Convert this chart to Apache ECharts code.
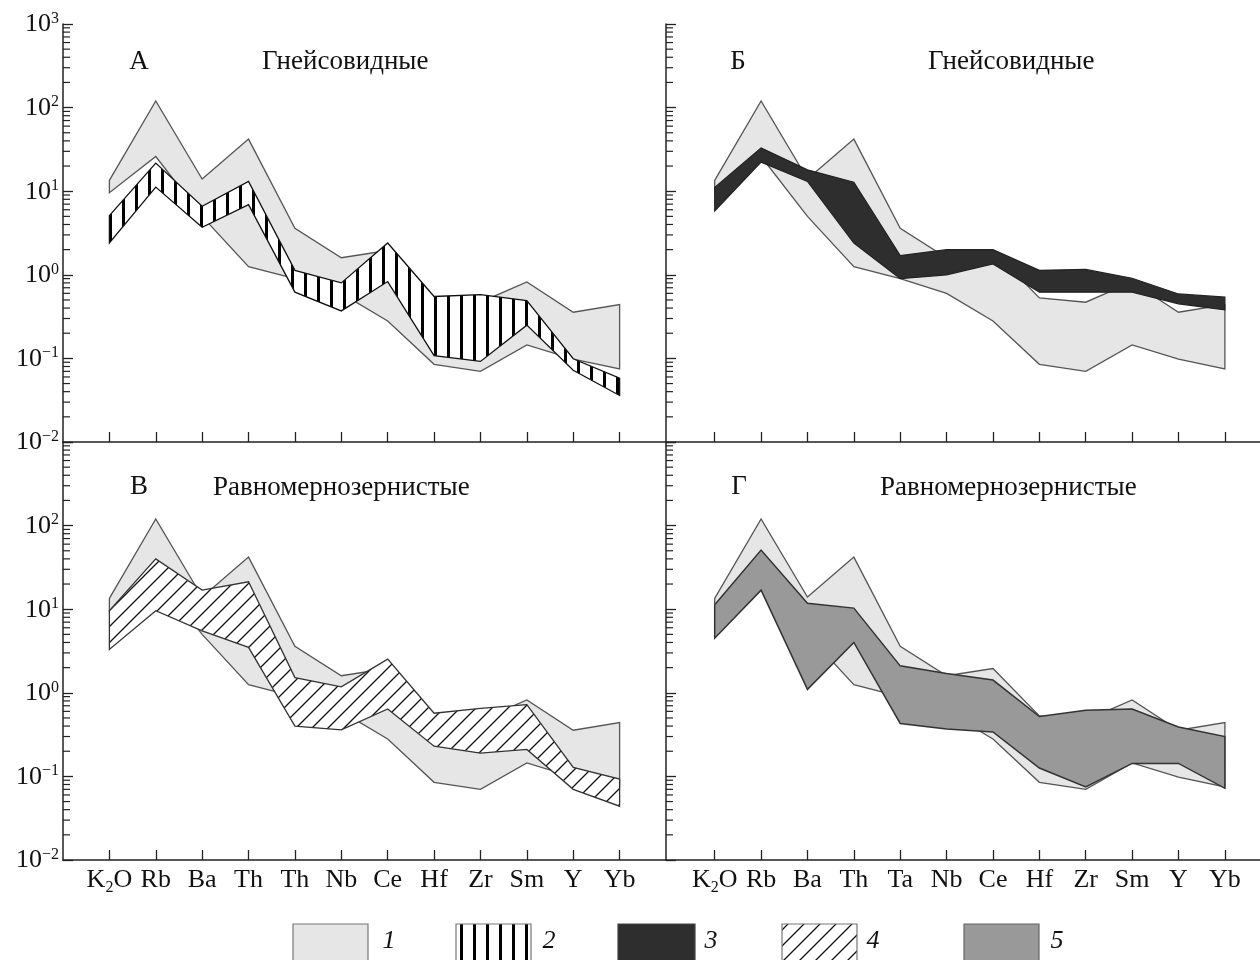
<!DOCTYPE html>
<html><head><meta charset="utf-8">
<script src="https://cdn.jsdelivr.net/npm/echarts@6/dist/echarts.min.js"></script>
<style>html,body{margin:0;padding:0;background:#fff}#c{width:1260px;height:960px}</style>
</head><body><div id="c"></div>
<script>
// ---------- DATA ----------
const elementsLeft  = ['K2O','Rb','Ba','Th','Th','Nb','Ce','Hf','Zr','Sm','Y','Yb'];
const elementsRight = ['K2O','Rb','Ba','Th','Ta','Nb','Ce','Hf','Zr','Sm','Y','Yb'];

// field 1 (light grey reference field, same in all panels)
const field1Upper = [13.5, 120, 14, 42, 3.6, 1.6, 1.95, 0.53, 0.47, 0.82, 0.357, 0.44];
const field1Lower = [9.6, 26, 5, 1.25, 0.9, 0.6, 0.28, 0.085, 0.07, 0.145, 0.098, 0.075];
// field 2 (vertical hatch, panel А)
const field2Upper = [5.1, 21.7, 6.6, 13.1, 1.13, 0.8, 2.4, 0.55, 0.58, 0.49, 0.099, 0.058];
const field2Lower = [2.4, 11.2, 3.7, 6.9, 0.62, 0.37, 0.83, 0.108, 0.092, 0.25, 0.072, 0.036];
// field 3 (black, panel Б)
const field3Upper = [11.1, 33, 18, 12.8, 1.7, 2.0, 2.0, 1.13, 1.16, 0.91, 0.59, 0.54];
const field3Lower = [5.8, 22.3, 13.1, 2.4, 0.9, 1.0, 1.35, 0.62, 0.62, 0.62, 0.45, 0.38];
// field 4 (diagonal hatch, panel В)
const field4Upper = [9.6, 40, 16.9, 21.3, 1.52, 1.18, 2.53, 0.57, 0.65, 0.72, 0.128, 0.093];
const field4Lower = [3.3, 9.6, 5.5, 3.5, 0.40, 0.36, 0.64, 0.23, 0.19, 0.21, 0.070, 0.044];
// field 5 (dark grey, panel Г)
const field5Upper = [11.3, 51, 11.8, 10.3, 2.1, 1.7, 1.42, 0.52, 0.62, 0.64, 0.39, 0.30];
const field5Lower = [4.5, 16.9, 1.1, 4.0, 0.43, 0.37, 0.34, 0.126, 0.075, 0.143, 0.143, 0.072];

const categoryPositions = [0,1,2,3,4,5,6,7,8,9,10,11];
const minorTickValues = [
  0.02,0.03,0.04,0.05,0.06,0.07,0.08,0.09,
  0.2,0.3,0.4,0.5,0.6,0.7,0.8,0.9,
  2,3,4,5,6,7,8,9,
  20,30,40,50,60,70,80,90,
  200,300,400,500,600,700,800,900
];
const panelLetters = ['А','Б','В','Г'];
const panelTitles = ['Гнейсовидные','Гнейсовидные','Равномернозернистые','Равномернозернистые'];
const legendLabels = ['1','2','3','4','5'];

// ---------- STYLES ----------
const SERIF = '"Liberation Serif","Times New Roman",serif';
const AXIS_COLOR = '#222';

function makeVertPattern(){
  const c=document.createElement('canvas'); c.width=13; c.height=4;
  const g=c.getContext('2d'); g.fillStyle='#fff'; g.fillRect(0,0,13,4);
  g.fillStyle='#000'; g.fillRect(5,0,3,4); return c;
}
function makeDiagPattern(){
  const s=16; const c=document.createElement('canvas'); c.width=s; c.height=s;
  const g=c.getContext('2d'); g.fillStyle='#fff'; g.fillRect(0,0,s,s);
  g.strokeStyle='#111'; g.lineWidth=1.3; g.beginPath();
  g.moveTo(-1,s+1); g.lineTo(s+1,-1);
  g.moveTo(-3,3); g.lineTo(3,-3);
  g.moveTo(s-3,s+3); g.lineTo(s+3,s-3);
  g.stroke(); return c;
}
const vertPattern = {image: makeVertPattern(), repeat: 'repeat'};
const diagPattern = {image: makeDiagPattern(), repeat: 'repeat'};

const styleField1 = {fill:'#e6e6e6', stroke:'#555', lineWidth:1.3};
const styleField2 = {fill:vertPattern, stroke:'#111', lineWidth:1.3};
const styleField3 = {fill:'#2e2e2e', stroke:'#222', lineWidth:1.2};
const styleField4 = {fill:diagPattern, stroke:'#333', lineWidth:1.3};
const styleField5 = {fill:'#999999', stroke:'#333', lineWidth:1.5};

// ---------- LAYOUT ----------
const grids = [
  {left:63, top:24, width:603, height:418},
  {left:666, top:24, width:594, height:418},
  {left:63, top:442, width:603, height:418},
  {left:666, top:442, width:594, height:418}
];
const xRanges = [[-1,12],[-1.05,11.757],[-1,12],[-1.05,11.757]];

function xAxisFor(i){
  const names = (i%2===0) ? elementsLeft : elementsRight;
  const bottom = i>=2;
  return {
    gridIndex:i, type:'value', min:xRanges[i][0], max:xRanges[i][1],
    axisLine:{show:true, onZero:false, lineStyle:{color:AXIS_COLOR, width:1.5}},
    axisTick:{show:true, inside:true, length:10, customValues:categoryPositions, lineStyle:{color:AXIS_COLOR, width:1.3}},
    axisLabel:{show:bottom, customValues:categoryPositions, margin:7,
      formatter:function(v){ const n = names[Math.round(v)]; return n==='K2O' ? '{b|K}{sub|2}{b|O}' : '{b|'+n+'}'; },
      rich:{
        b:{fontSize:26, fontFamily:SERIF, color:'#111', verticalAlign:'top'},
        sub:{fontSize:16, fontFamily:SERIF, color:'#111', verticalAlign:'top', padding:[13,0,0,0]}
      }},
    splitLine:{show:false}
  };
}
function yAxisFor(i){
  const left = (i%2===0);
  return {
    gridIndex:i, type:'log', logBase:10, min:0.01, max:1000,
    axisLine:{show:true, onZero:false, lineStyle:{color:AXIS_COLOR, width:1.5}},
    axisTick:{show:true, inside:true, length:10, lineStyle:{color:AXIS_COLOR, width:1.3}},
    axisLabel:{show:left, margin:4,
      formatter:function(v){
        const e = Math.round(Math.log10(v));
        if (i===2 && e===3) return '';
        const es = e<0 ? '\u2212'+(-e) : String(e);
        return '{b|10}{sup|'+es+'}';
      },
      rich:{
        b:{fontSize:26, fontFamily:SERIF, color:'#111', verticalAlign:'bottom'},
        sup:{fontSize:16, fontFamily:SERIF, color:'#111', verticalAlign:'bottom', padding:[0,0,11,0]}
      }},
    splitLine:{show:false}
  };
}

function bandSeries(gridIdx, upper, lower, style, z){
  return {
    type:'custom', xAxisIndex:gridIdx, yAxisIndex:gridIdx, silent:true, z:z, clip:false,
    data: upper.map((u,k)=>[k, u, lower[k]]),
    encode:{x:0, y:[1,2]},
    renderItem:function(params, api){
      if (params.dataIndex !== 0) return null;
      const pts = [];
      for (let k=0;k<upper.length;k++) pts.push(api.coord([k, upper[k]]));
      for (let k=lower.length-1;k>=0;k--) pts.push(api.coord([k, lower[k]]));
      return {type:'polygon', shape:{points:pts}, style:Object.assign({}, style)};
    }
  };
}
function minorTickSeries(gridIdx){
  const xMin = xRanges[gridIdx][0];
  return {
    type:'custom', xAxisIndex:gridIdx, yAxisIndex:gridIdx, silent:true, z:5, clip:false,
    data: minorTickValues.map(v=>[xMin, v]),
    encode:{x:0, y:1},
    renderItem:function(params, api){
      const p = api.coord([api.value(0), api.value(1)]);
      return {type:'line', shape:{x1:p[0], y1:p[1], x2:p[0]+7, y2:p[1]}, style:{stroke:AXIS_COLOR, lineWidth:1.2}};
    }
  };
}

const series = [
  bandSeries(0, field1Upper, field1Lower, styleField1, 2),
  bandSeries(0, field2Upper, field2Lower, styleField2, 3),
  bandSeries(1, field1Upper, field1Lower, styleField1, 2),
  bandSeries(1, field3Upper, field3Lower, styleField3, 3),
  bandSeries(2, field1Upper, field1Lower, styleField1, 2),
  bandSeries(2, field4Upper, field4Lower, styleField4, 3),
  bandSeries(3, field1Upper, field1Lower, styleField1, 2),
  bandSeries(3, field5Upper, field5Lower, styleField5, 3),
  minorTickSeries(0), minorTickSeries(1), minorTickSeries(2), minorTickSeries(3)
];

// ---------- TEXT & LEGEND ----------
const letterPos = [[139,62],[738,62],[139,487],[739,487]];
const titlePos = [[262,62],[928,62],[213,488],[880,488]];
const graphics = [];
for (let k=0;k<4;k++){
  graphics.push({type:'text', x:letterPos[k][0], y:letterPos[k][1], silent:true,
    style:{text:panelLetters[k], font:'27px '+SERIF, fill:'#111', textAlign:'center', textVerticalAlign:'middle'}});
  graphics.push({type:'text', x:titlePos[k][0], y:titlePos[k][1], silent:true,
    style:{text:panelTitles[k], font:'27px '+SERIF, fill:'#111', textAlign:'left', textVerticalAlign:'middle'}});
}
const legendBoxes = [[293,75],[456,75],[618,77],[782,75],[964,75]];
const legendStyles = [
  {fill:'#e6e6e6', stroke:'#777', lineWidth:1.2},
  {fill:vertPattern, stroke:'#777', lineWidth:1.2},
  {fill:'#2e2e2e', stroke:'#444', lineWidth:1.2},
  {fill:diagPattern, stroke:'#777', lineWidth:1.2},
  {fill:'#999999', stroke:'#666', lineWidth:1.2}
];
const legendTextX = [389,549,711,873,1057];
for (let k=0;k<5;k++){
  graphics.push({type:'rect', silent:true, shape:{x:legendBoxes[k][0], y:924, width:legendBoxes[k][1], height:45},
    style:legendStyles[k]});
  graphics.push({type:'text', x:legendTextX[k], y:941, silent:true,
    style:{text:legendLabels[k], font:'italic 26px '+SERIF, fill:'#111', textAlign:'center', textVerticalAlign:'middle'}});
}

const chart = echarts.init(document.getElementById('c'), null, {renderer:'canvas'});
chart.setOption({
  animation:false,
  backgroundColor:'#ffffff',
  grid:grids,
  xAxis:[0,1,2,3].map(xAxisFor),
  yAxis:[0,1,2,3].map(yAxisFor),
  series:series,
  graphic:graphics
});
</script>
</body></html>
